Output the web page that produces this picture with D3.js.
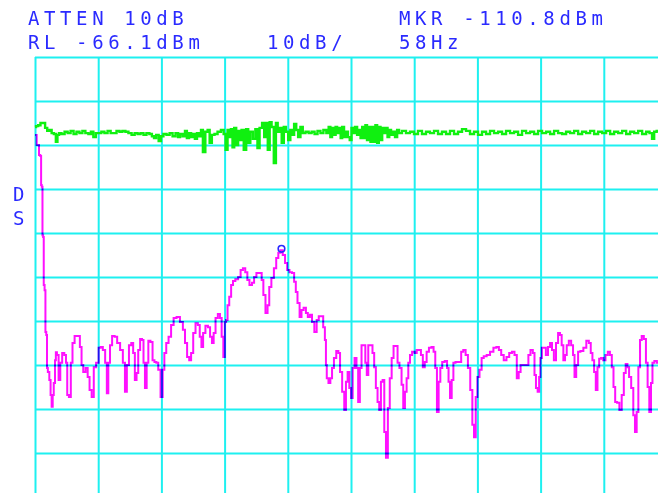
<!DOCTYPE html>
<html>
<head>
<meta charset="utf-8">
<script src="https://cdn.jsdelivr.net/npm/d3@7"></script>
<style>
  html, body { margin: 0; padding: 0; background: #fff; }
  svg { display: block; }
</style>
</head>
<body>
<div id="chart"></div>
<script>
// Analyzer settings (as shown on screen)
const refLevel = -66.1;          // dBm, top graticule line
const dbPerDiv = 10;
const hzPerDiv = 15;
const freqTicks = [0, 15, 30, 45, 60, 75, 90, 105, 120, 135, 150];
const levelTicks = [-66.1, -76.1, -86.1, -96.1, -106.1, -116.1, -126.1, -136.1, -146.1, -156.1, -166.1];

const headerLeft = ["ATTEN 10dB", "RL -66.1dBm"];
const scaleLabel = "10dB/";
const headerRight = ["MKR -110.8dBm", "58Hz"];
const sideLabel = ["D", "S"];

// marker position [Hz, dBm]
const markerPoint = [58.5, -109.7];

// green trace [Hz, dBm]
const liveTrace = [
  [0,-82.0],[0.5,-81.8],[1.0,-81.6],[1.6,-81.1],[2.2,-81.1],[2.6,-82.2],[3.2,-82.9],[3.7,-82.7],
  [4.2,-83.4],[4.75,-83.6],[5.15,-85.4],[5.5,-83.8],[5.9,-83.4],[6.65,-83.6],[7.4,-83.1],[8.1,-83.4],
  [8.8,-82.9],[9.5,-83.6],[10.2,-83.1],[10.9,-83.4],[11.6,-82.9],[12.3,-83.4],[13.05,-83.6],[13.5,-83.1],
  [14.2,-84.3],[14.7,-83.4],[15.4,-83.4],[16.1,-83.1],[16.85,-83.4],[17.6,-82.9],[18.3,-83.4],[19.0,-83.4],
  [19.7,-82.9],[20.4,-83.1],[21.1,-82.9],[21.8,-83.1],[22.55,-83.4],[23.3,-83.8],[24.0,-83.4],[24.7,-83.6],
  [25.4,-83.4],[26.1,-83.8],[26.8,-83.4],[27.5,-83.6],[28.0,-84.1],[28.5,-84.5],[29.0,-83.8],[29.7,-85.2],
  [30.1,-84.1],[30.85,-83.6],[31.6,-83.8],[32.3,-83.4],[33.0,-84.1],[33.7,-83.4],[34.2,-84.3],[34.65,-83.6],
  [35.4,-84.1],[35.8,-82.9],[36.3,-84.5],[36.8,-83.4],[37.3,-84.3],[37.7,-83.6],[38.2,-84.7],[38.7,-83.4],
  [39.2,-84.1],[39.6,-82.7],[40.1,-87.7],[40.75,-83.1],[41.2,-82.7],[41.7,-85.6],[42.25,-83.8],[42.96,-83.6],
  [43.7,-83.1],[44.55,-82.7],[45.0,-83.6],[45.5,-87.2],[45.9,-82.7],[46.3,-84.3],[46.7,-82.5],[47.06,-86.6],
  [47.5,-82.2],[48.0,-86.1],[48.4,-82.9],[48.8,-85.0],[49.25,-82.7],[49.84,-87.2],[50.4,-82.5],[50.8,-85.6],
  [51.4,-83.1],[52.0,-84.7],[52.6,-82.5],[53.0,-86.8],[53.6,-82.2],[54.2,-81.1],[54.6,-84.3],[55.0,-81.1],
  [55.5,-87.2],[55.9,-80.9],[56.4,-82.0],[56.96,-90.2],[57.4,-81.1],[57.8,-83.1],[58.3,-82.2],[58.8,-85.6],
  [59.3,-82.0],[59.8,-83.1],[60.4,-85.0],[60.8,-82.7],[61.2,-83.8],[61.8,-81.3],[62.2,-82.7],[62.7,-84.3],
  [63.3,-82.0],[63.8,-83.4],[64.6,-83.1],[65.3,-83.4],[66.0,-83.1],[66.7,-83.6],[67.4,-82.9],[68.1,-83.4],
  [68.8,-82.7],[69.5,-83.4],[69.9,-82.0],[70.3,-84.3],[70.7,-82.2],[71.2,-83.8],[71.5,-82.0],[71.9,-83.4],
  [72.4,-82.2],[72.7,-84.5],[73.1,-82.0],[73.6,-84.3],[74.05,-83.1],[74.5,-84.3],[74.9,-85.0],[75.35,-82.2],
  [75.7,-83.4],[76.2,-82.0],[76.7,-83.8],[77.1,-82.7],[77.45,-84.5],[77.85,-82.0],[78.25,-84.5],[78.6,-81.6],
  [79.0,-85.0],[79.45,-82.0],[79.8,-85.4],[80.2,-82.0],[80.6,-85.4],[81.0,-81.6],[81.4,-85.6],[81.8,-82.0],
  [82.2,-85.0],[82.6,-82.2],[83.1,-83.4],[83.5,-82.2],[83.85,-84.3],[84.3,-82.7],[84.7,-83.8],[85.2,-83.1],
  [85.7,-84.3],[86.2,-82.7],[86.6,-83.4],[87.6,-82.9],[88.5,-83.4],[89.5,-83.1],[90.4,-83.6],[91.4,-82.9],
  [92.3,-83.6],[93.3,-83.1],[94.2,-83.4],[95.2,-82.9],[96.1,-83.6],[97.1,-83.1],[98.0,-83.6],[99.0,-82.9],
  [99.9,-83.6],[100.9,-83.1],[101.8,-82.5],[102.8,-82.9],[103.7,-83.6],[104.7,-83.1],[105.6,-83.8],[106.6,-83.1],
  [107.5,-83.6],[108.5,-82.9],[109.4,-83.4],[110.4,-83.1],[111.3,-83.6],[112.3,-82.9],[113.2,-83.4],[114.2,-83.1],
  [115.1,-83.8],[116.1,-82.9],[117.0,-83.4],[118.0,-83.1],[118.9,-83.6],[119.9,-82.9],[120.8,-83.4],[121.8,-83.1],
  [122.7,-83.6],[123.7,-82.9],[124.6,-83.4],[125.6,-83.6],[126.5,-83.1],[127.5,-83.4],[128.4,-82.9],[129.4,-83.6],
  [130.3,-83.1],[131.3,-83.4],[132.2,-82.9],[133.2,-83.6],[134.1,-83.1],[135.1,-83.4],[136.0,-82.9],[137.0,-83.6],
  [137.9,-83.1],[138.9,-83.4],[139.8,-82.9],[140.8,-83.6],[141.7,-83.1],[142.7,-83.4],[143.6,-82.9],[144.6,-83.6],
  [145.5,-83.1],[146.2,-83.4],[146.7,-84.7],[147.2,-83.1],[147.9,-82.9]
];

// magenta trace [Hz, dBm]
const storedTrace = [
  [0,-83.8],[0.8,-86.1],[1.1,-88.4],[1.4,-88.6],[1.5,-95.2],[1.7,-95.6],[1.85,-106.6],[2.0,-107.0],
  [2.15,-117.9],[2.4,-119.1],[2.55,-128.6],[2.8,-129.3],[2.9,-136.8],[3.2,-137.7],[3.6,-139.5],[3.8,-142.9],
  [4.1,-145.6],[4.3,-142.9],[4.6,-140.2],[4.9,-135.0],[5.0,-133.2],[5.4,-133.8],[5.8,-139.5],[6.2,-135.6],
  [6.7,-133.4],[7.2,-133.8],[7.5,-135.6],[7.8,-142.9],[8.3,-143.4],[8.7,-135.6],[9.1,-131.1],[9.7,-129.5],
  [10.4,-129.5],[10.9,-132.0],[11.2,-136.1],[11.7,-137.7],[12.3,-136.8],[12.7,-138.8],[13.2,-141.8],[13.7,-143.4],
  [14.2,-136.6],[14.8,-135.6],[15.4,-132.2],[15.8,-132.0],[16.4,-132.7],[16.9,-135.6],[17.2,-142.5],[17.6,-135.6],
  [18.0,-131.6],[18.6,-129.5],[19.2,-129.7],[19.8,-131.1],[20.6,-132.7],[21.1,-135.6],[21.6,-142.2],[22.0,-136.1],
  [22.6,-131.6],[23.1,-131.1],[23.5,-133.4],[23.9,-139.5],[24.3,-137.9],[24.7,-132.7],[25.2,-130.2],[25.6,-130.4],
  [25.9,-135.6],[26.3,-141.3],[26.7,-135.6],[27.1,-130.6],[27.7,-130.9],[28.1,-135.0],[28.6,-135.4],[29.0,-135.6],
  [29.5,-137.2],[30.1,-143.4],[30.5,-137.2],[30.9,-133.4],[31.4,-131.1],[32.0,-129.7],[32.6,-127.0],[33.2,-125.4],
  [34.0,-125.2],[34.8,-126.3],[35.4,-128.1],[35.8,-131.1],[36.4,-134.3],[36.8,-135.0],[37.3,-133.4],[37.8,-128.8],
  [38.4,-126.6],[38.9,-127.0],[39.3,-129.7],[39.7,-132.0],[40.1,-128.8],[40.8,-127.2],[41.3,-127.5],[41.8,-129.7],
  [42.2,-131.1],[42.6,-128.8],[43.1,-125.4],[43.7,-124.5],[44.1,-125.4],[44.5,-129.7],[44.9,-134.3],[45.2,-126.3],
  [45.5,-125.9],[45.9,-122.5],[46.3,-120.6],[46.8,-117.9],[47.2,-117.0],[47.9,-116.6],[48.5,-116.1],[49.1,-114.5],
  [49.6,-114.1],[50.2,-115.0],[50.6,-116.8],[51.2,-117.9],[51.8,-117.4],[52.2,-116.1],[52.9,-115.2],[53.6,-115.2],
  [54.0,-116.8],[54.4,-120.2],[55.0,-124.3],[55.4,-122.5],[55.8,-118.4],[56.4,-116.3],[57.0,-114.1],[57.5,-111.8],
  [58.0,-110.6],[58.5,-110.0],[59.1,-111.1],[59.6,-112.9],[60.1,-114.5],[60.7,-115.0],[61.3,-115.2],[61.7,-117.2],
  [62.1,-119.5],[62.5,-122.0],[63.1,-125.2],[63.4,-123.6],[64.1,-123.1],[64.5,-124.3],[65.0,-125.2],[65.5,-124.7],
  [66.0,-126.3],[66.6,-128.6],[67.1,-125.9],[67.6,-125.0],[68.2,-125.0],[68.6,-127.5],[69.0,-130.4],[69.1,-136.1],
  [69.4,-139.1],[69.9,-140.2],[70.3,-139.1],[70.7,-136.8],[71.2,-134.5],[71.8,-132.9],[72.2,-133.4],[72.6,-137.7],
  [73.2,-142.2],[73.6,-146.3],[74.0,-139.9],[74.4,-137.7],[74.8,-141.3],[75.2,-143.6],[75.6,-136.8],[76.1,-134.5],
  [76.5,-136.8],[76.9,-144.5],[77.3,-136.8],[77.7,-131.6],[78.2,-131.6],[78.6,-135.6],[78.9,-138.4],[79.3,-131.6],
  [79.9,-131.6],[80.3,-133.4],[80.7,-136.6],[81.1,-141.3],[81.5,-144.5],[81.9,-146.3],[82.3,-139.9],[82.7,-139.5],
  [83.1,-151.3],[83.5,-157.2],[84.0,-145.9],[84.4,-139.1],[84.9,-134.5],[85.3,-131.8],[85.9,-131.8],[86.2,-135.6],
  [86.8,-136.8],[87.2,-140.6],[87.6,-145.9],[88.0,-142.2],[88.4,-139.1],[88.8,-135.6],[89.2,-133.8],[89.8,-133.1],
  [90.4,-133.4],[90.8,-132.7],[91.4,-132.7],[91.8,-133.8],[92.3,-136.6],[92.7,-135.4],[93.2,-133.1],[93.8,-132.2],
  [94.4,-132.0],[94.8,-133.1],[95.2,-136.8],[95.6,-146.8],[96.0,-139.9],[96.4,-136.8],[96.9,-135.4],[97.6,-135.2],
  [98.0,-136.8],[98.3,-139.9],[98.7,-143.6],[99.1,-139.5],[99.5,-135.6],[100.1,-135.4],[100.9,-135.4],[101.4,-133.1],
  [101.9,-132.7],[102.5,-133.8],[103.0,-136.8],[103.6,-141.8],[104.0,-149.7],[104.4,-152.5],[104.8,-143.4],[105.2,-138.8],
  [105.8,-137.2],[106.2,-134.5],[106.8,-134.1],[107.6,-133.8],[108.4,-133.1],[109.2,-132.2],[109.8,-132.0],[110.4,-132.7],
  [110.9,-133.8],[111.6,-135.0],[112.2,-134.3],[112.9,-133.4],[113.5,-133.1],[114.1,-133.8],[114.6,-139.1],[115.0,-137.7],
  [115.5,-136.1],[116.9,-136.1],[117.3,-133.8],[117.9,-132.7],[118.4,-133.4],[118.7,-138.4],[119.1,-141.3],[119.5,-142.2],
  [119.8,-138.8],[120.1,-134.5],[120.5,-132.2],[121.0,-132.2],[121.5,-133.8],[122.0,-132.0],[122.5,-131.1],[122.9,-132.7],
  [123.4,-135.0],[123.9,-131.1],[124.4,-128.8],[124.8,-129.3],[125.2,-131.6],[125.6,-135.0],[126.0,-133.8],[126.4,-131.6],
  [127.0,-130.6],[127.5,-131.6],[127.9,-133.8],[128.2,-138.8],[128.7,-136.1],[129.1,-133.1],[129.8,-132.9],[130.5,-132.2],
  [131.2,-130.6],[131.7,-131.1],[132.1,-133.4],[132.5,-135.0],[132.9,-137.7],[133.3,-141.8],[133.7,-136.6],[134.1,-134.7],
  [134.6,-134.5],[135.1,-135.0],[135.7,-133.8],[136.2,-133.1],[136.7,-133.8],[137.1,-136.6],[137.5,-141.1],[137.9,-144.5],
  [138.4,-144.7],[139.0,-146.3],[139.5,-142.9],[140.0,-137.9],[140.4,-135.9],[140.8,-136.6],[141.2,-138.8],[141.8,-141.3],
  [142.2,-147.5],[142.6,-151.3],[143.0,-146.8],[143.4,-136.6],[143.8,-130.4],[144.2,-129.5],[144.8,-130.2],[145.2,-135.6],
  [145.6,-141.1],[146.0,-146.8],[146.4,-140.2],[146.7,-135.6],[147.3,-135.2],[147.9,-135.6]
];

const width = 658, height = 493;
const plotLeft = 35, plotTop = 57;
const divW = 63.2, divH = 44;

const TEXT_BLUE = "#2a2aff";
const GRID_CYAN = "#1ef0f0";

const svg = d3.select("#chart")
  .append("svg")
  .attr("width", width)
  .attr("height", height)
  .style("background", "#fff");

const x = d3.scaleLinear()
  .domain([freqTicks[0], freqTicks[freqTicks.length - 1]])
  .range([plotLeft, plotLeft + divW * (freqTicks.length - 1)]);

const y = d3.scaleLinear()
  .domain([refLevel, refLevel - dbPerDiv * (levelTicks.length - 1)])
  .range([plotTop, plotTop + divH * (levelTicks.length - 1)]);

const plotBottom = y.range()[1];
const plotRight = x.range()[1];

// Graticule
svg.append("g")
  .attr("class", "grid-v")
  .attr("transform", `translate(0,${plotBottom})`)
  .call(d3.axisBottom(x).tickValues(freqTicks).tickSize(-(plotBottom - plotTop)).tickFormat(""));

svg.append("g")
  .attr("class", "grid-h")
  .attr("transform", `translate(${plotLeft},0)`)
  .call(d3.axisLeft(y).tickValues(levelTicks).tickSize(-(plotRight - plotLeft)).tickFormat(""));

svg.selectAll(".grid-v .domain, .grid-h .domain").remove();
svg.selectAll(".grid-v .tick line, .grid-h .tick line")
  .attr("stroke", GRID_CYAN)
  .attr("stroke-width", 2);

// Traces - stepped like the instrument's raster display
const line = d3.line()
  .x(d => x(d[0]))
  .y(d => y(d[1]))
  .curve(d3.curveStep);

svg.append("path")
  .datum(liveTrace)
  .attr("d", line)
  .attr("fill", "none")
  .attr("stroke", "#10f010")
  .attr("stroke-width", 2.4);

svg.append("path")
  .datum(storedTrace)
  .attr("d", line)
  .attr("fill", "none")
  .attr("stroke", "#ff10ff")
  .attr("stroke-width", 2)
  .style("mix-blend-mode", "multiply");

// Marker
svg.append("circle")
  .attr("cx", x(markerPoint[0]))
  .attr("cy", y(markerPoint[1]))
  .attr("r", 3.3)
  .attr("fill", "none")
  .attr("stroke", TEXT_BLUE)
  .attr("stroke-width", 1.6);

// Annotations
const label = (txt, px, py) => svg.append("text")
  .attr("x", px)
  .attr("y", py)
  .attr("fill", TEXT_BLUE)
  .attr("font-family", "'DejaVu Sans Mono', 'Liberation Mono', monospace")
  .attr("font-size", 19)
  .attr("letter-spacing", "4.6px")
  .text(txt);

label(headerLeft[0], 28, 25);
label(headerLeft[1], 28, 49);
label(scaleLabel, 267, 49);
label(headerRight[0], 399, 25);
label(headerRight[1], 399, 49);
label(sideLabel[0], 13, 201);
label(sideLabel[1], 13, 225);
</script>
</body>
</html>
